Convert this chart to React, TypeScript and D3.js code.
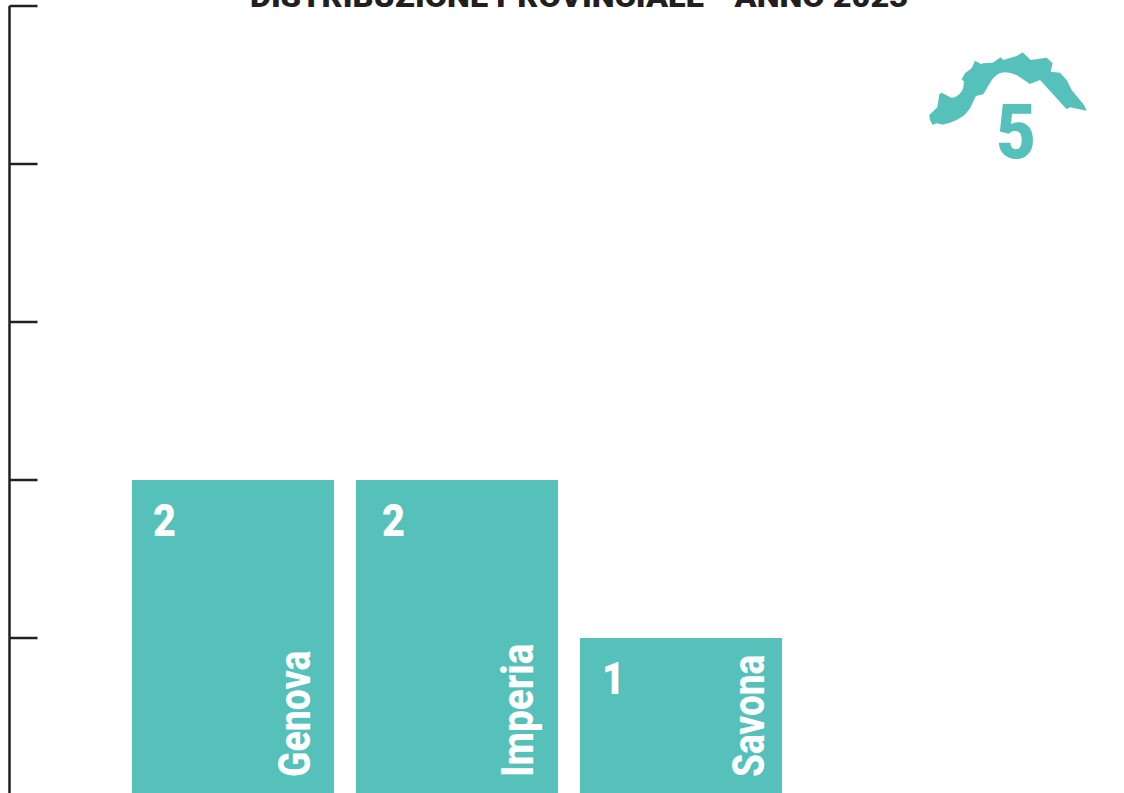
import React, { useEffect, useRef } from "react";
import * as d3 from "d3";

const provinces = ["Genova", "Imperia", "Savona"];
const counts = [2, 2, 1];
const yTicks = [0, 1, 2, 3, 4, 5];
const total = 5;
const title = "DISTRIBUZIONE PROVINCIALE - ANNO 2023";
// outline of Liguria, as traced from the icon (lives in its own 0-700 box)
const regionOutline: [number, number][] = [
  [88, 255], [112, 232], [118, 192], [125, 188], [155, 204], [168, 200], [178, 192], [186, 183],
  [190, 172], [192, 155], [185, 148], [195, 130], [215, 115], [225, 92], [243, 102], [250, 100],
  [278, 98], [302, 82], [310, 90], [350, 78], [368, 67], [392, 90], [440, 83], [458, 100],
  [452, 125], [480, 128], [500, 150], [515, 180], [552, 225], [560, 242], [510, 232], [500, 238],
  [470, 205], [420, 150], [390, 162], [350, 135], [332, 129], [315, 127], [300, 129], [290, 135],
  [280, 144], [272, 155], [250, 193], [228, 198], [218, 218], [210, 235], [199, 249], [190, 258],
  [170, 270], [150, 278], [128, 284], [110, 280], [98, 285], [90, 270],
];

const teal = "#55c1ba";
const ink = "#231f20";
const font = "Roboto, sans-serif";

export default function App() {
  const ref = useRef<SVGSVGElement>(null);

  useEffect(() => {
    const width = 1124;
    const height = 793;
    const svg = d3.select(ref.current);
    svg.selectAll("*").remove();

    const x = d3.scaleBand<string>().domain(provinces).range([132, 782]).paddingInner(22 / 224);
    const y = d3.scaleLinear().domain([0, 5]).range([796, 6]);

    // title is cut by the top of the page
    svg
      .append("text")
      .attr("x", 579)
      .attr("y", 7)
      .attr("text-anchor", "middle")
      .attr("textLength", 658)
      .attr("lengthAdjust", "spacingAndGlyphs")
      .attr("font-family", font)
      .attr("font-weight", 900)
      .attr("font-size", 30)
      .attr("fill", ink)
      .text(title);

    // y axis
    svg
      .append("g")
      .attr("transform", "translate(9.5,0)")
      .call(
        d3
          .axisRight(y)
          .tickValues(yTicks)
          .tickSize(28)
          .tickSizeOuter(0)
          .offset(0)
          .tickFormat(() => "")
      )
      .call((g) => g.select(".domain").attr("stroke", ink).attr("stroke-width", 2.5))
      .call((g) => g.selectAll(".tick line").attr("stroke", ink).attr("stroke-width", 2.5));

    // bars
    const bars = svg
      .selectAll("g.bar")
      .data(provinces)
      .join("g")
      .attr("class", "bar")
      .attr("transform", (d) => `translate(${x(d)},0)`);

    bars
      .append("rect")
      .attr("width", x.bandwidth())
      .attr("y", (_, i) => y(counts[i]))
      .attr("height", (_, i) => y(0) - y(counts[i]))
      .attr("fill", teal);

    // number insets differ a little from bar to bar in the original
    const valueInset = [21, 26, 22];
    bars
      .append("text")
      .attr(
        "transform",
        (_, i) => `translate(${valueInset[i]},${y(counts[i]) + 56}) scale(0.88,1)`
      )
      .attr("font-family", font)
      .attr("font-weight", 900)
      .attr("font-size", 45)
      .attr("fill", "#fff")
      .text((_, i) => counts[i]);

    const labelInset = [178, 177, 184];
    const labelStretch = [0.85, 0.88, 0.84];
    bars
      .append("text")
      .attr(
        "transform",
        (_, i) => `translate(${labelInset[i]},777) rotate(-90) scale(${labelStretch[i]},1)`
      )
      .attr("font-family", font)
      .attr("font-weight", 800)
      .attr("font-size", 44)
      .attr("fill", "#fff")
      .text((d) => d);

    // region icon with the total
    const icon = svg.append("g").attr("transform", "translate(900,30) scale(0.3333)");
    icon
      .append("path")
      .attr("d", d3.line().curve(d3.curveLinearClosed)(regionOutline))
      .attr("fill", teal);

    svg
      .append("text")
      .attr("transform", "translate(1016,158) scale(0.9,1)")
      .attr("text-anchor", "middle")
      .attr("font-family", font)
      .attr("font-weight", 900)
      .attr("font-size", 76)
      .attr("fill", teal)
      .text(total);

    svg.attr("width", width).attr("height", height);
  }, []);

  return (
    <svg
      ref={ref}
      style={{ position: "absolute", left: 0, top: 0, display: "block", background: "#fff" }}
    />
  );
}
